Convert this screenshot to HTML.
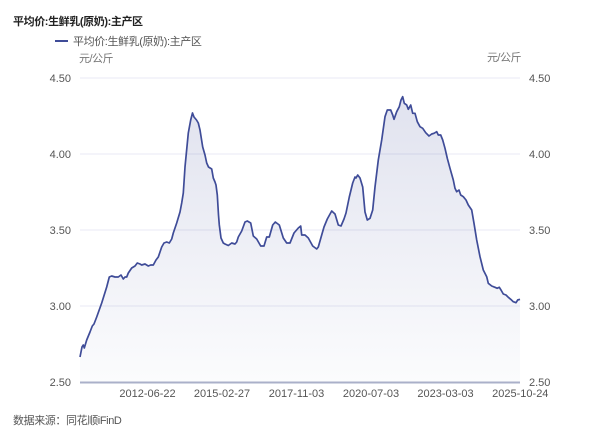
<!DOCTYPE html>
<html><head><meta charset="utf-8"><style>
html,body{margin:0;padding:0;background:#fff;}
svg{display:block;font-family:"Liberation Sans","Noto Sans CJK SC",sans-serif;}
</style></head><body>
<svg width="600" height="439" viewBox="0 0 600 439" xmlns="http://www.w3.org/2000/svg">
<defs>
<linearGradient id="g" x1="0" y1="95" x2="0" y2="382" gradientUnits="userSpaceOnUse">
<stop offset="0" stop-color="#4a569e" stop-opacity="0.17"/>
<stop offset="1" stop-color="#4a569e" stop-opacity="0.02"/>
</linearGradient>
</defs>
<text x="13" y="25" font-size="11" font-weight="bold" fill="#222" letter-spacing="-0.4">平均价:生鲜乳(原奶):主产区</text>
<line x1="55" y1="41" x2="68" y2="41" stroke="#3f4c98" stroke-width="2"/>
<text x="73" y="45" font-size="11" fill="#555" letter-spacing="-0.4">平均价:生鲜乳(原奶):主产区</text>
<text x="79" y="62" font-size="11" fill="#777" letter-spacing="-0.5">元/公斤</text>
<text x="521" y="61" font-size="11" fill="#777" text-anchor="end" letter-spacing="-0.5">元/公斤</text>
<g stroke="#e8e9f4" stroke-width="1">
<line x1="80" y1="78" x2="520" y2="78"/>
<line x1="80" y1="154" x2="520" y2="154"/>
<line x1="80" y1="230" x2="520" y2="230"/>
<line x1="80" y1="306" x2="520" y2="306"/>
</g>
<g font-size="11" fill="#555" text-anchor="end">
<text x="71" y="82">4.50</text>
<text x="71" y="158">4.00</text>
<text x="71" y="234">3.50</text>
<text x="71" y="310">3.00</text>
<text x="71" y="386">2.50</text>
</g>
<g font-size="11" fill="#555" text-anchor="start">
<text x="529" y="82">4.50</text>
<text x="529" y="158">4.00</text>
<text x="529" y="234">3.50</text>
<text x="529" y="310">3.00</text>
<text x="529" y="386">2.50</text>
</g>
<path d="M80,357 L81,352 L82,347 L83.3,345 L84.3,348 L86.7,340 L90,332 L92.3,326 L94,324 L96.7,317 L101.7,303 L106.7,287 L109.3,277 L111.7,276 L115,277 L118.3,277 L121,275 L123.3,279 L125,277 L126.7,277 L128.3,273 L131.7,268 L135,266 L137.3,263 L140,264 L141.7,265 L145,264 L148.3,266 L150.7,265 L153.3,265 L156,260 L158.3,257 L160,252 L161.7,247 L164,243 L166.7,242 L169.3,243 L171.7,239 L173.3,233 L176.7,223 L180,212 L181.7,203 L183.3,193 L185,167 L188.3,133 L190.7,120 L192.5,113 L194,117 L196.5,120 L198.3,123 L200,130 L202.7,147 L205,155 L206.7,163 L208.5,167 L211.7,169 L213.3,178 L215,182 L216,185 L217.3,195 L218.5,215 L219.3,225 L221,238 L223.3,243 L225,244 L228.3,245.5 L231.7,243 L235,244 L236.7,242 L238.3,237 L241.7,231 L245,222 L247.3,221 L250.7,223 L253.3,236 L256.7,239 L260.7,246 L264,246 L266.7,237 L269.3,237 L272.7,225 L275.3,222 L279.3,225 L283.3,238 L286.7,243 L290,243 L294,233 L298.3,228 L300.7,226 L301.7,235 L305,235 L308.3,238 L312.7,246 L316.7,249 L318.3,247 L321.7,235 L324,227 L327.3,219 L331.7,211 L335,214 L338.3,225 L341,226 L344,219 L346,213 L349.3,197 L352.7,183 L355,177 L356,178 L357.7,175 L360,178 L362.7,187 L365,212 L367.3,220 L370,218.3 L372.7,210 L375,187 L378.3,160 L381.7,140 L385,116.7 L387.3,110 L390.7,110 L392.7,115 L394,119.3 L396.7,111.7 L399.3,106.7 L401,100 L402.7,96.7 L404.3,103.3 L406.7,105 L408.3,109.3 L410.7,105 L412.7,113.3 L415,113.3 L417.3,121.7 L420,126.7 L422.7,128.3 L425.7,132.7 L429,136 L431.7,134 L434,133.3 L436.7,131.7 L438.3,135 L440.7,135 L442.7,140 L445,148.3 L447.3,158.3 L450,168.3 L453.3,180 L455,188.3 L456.7,191.7 L459,190 L460.7,195 L463.3,196.7 L466,200 L468.3,205 L471.7,210 L474,223.3 L476.7,240 L480,256.7 L483.3,270 L486.7,276.7 L488.3,283.3 L491.7,286 L495,287.3 L497.3,288.3 L499.3,287.3 L501,290 L503.3,294 L506,295 L508.3,297.3 L510.7,299.3 L513.3,301.7 L516,302.7 L517.7,300 L520,299.3 L520,382 L80,382 Z" fill="url(#g)" stroke="none"/>
<polyline fill="none" stroke="#3f4c98" stroke-width="1.7" stroke-linejoin="round" points="80,357 81,352 82,347 83.3,345 84.3,348 86.7,340 90,332 92.3,326 94,324 96.7,317 101.7,303 106.7,287 109.3,277 111.7,276 115,277 118.3,277 121,275 123.3,279 125,277 126.7,277 128.3,273 131.7,268 135,266 137.3,263 140,264 141.7,265 145,264 148.3,266 150.7,265 153.3,265 156,260 158.3,257 160,252 161.7,247 164,243 166.7,242 169.3,243 171.7,239 173.3,233 176.7,223 180,212 181.7,203 183.3,193 185,167 188.3,133 190.7,120 192.5,113 194,117 196.5,120 198.3,123 200,130 202.7,147 205,155 206.7,163 208.5,167 211.7,169 213.3,178 215,182 216,185 217.3,195 218.5,215 219.3,225 221,238 223.3,243 225,244 228.3,245.5 231.7,243 235,244 236.7,242 238.3,237 241.7,231 245,222 247.3,221 250.7,223 253.3,236 256.7,239 260.7,246 264,246 266.7,237 269.3,237 272.7,225 275.3,222 279.3,225 283.3,238 286.7,243 290,243 294,233 298.3,228 300.7,226 301.7,235 305,235 308.3,238 312.7,246 316.7,249 318.3,247 321.7,235 324,227 327.3,219 331.7,211 335,214 338.3,225 341,226 344,219 346,213 349.3,197 352.7,183 355,177 356,178 357.7,175 360,178 362.7,187 365,212 367.3,220 370,218.3 372.7,210 375,187 378.3,160 381.7,140 385,116.7 387.3,110 390.7,110 392.7,115 394,119.3 396.7,111.7 399.3,106.7 401,100 402.7,96.7 404.3,103.3 406.7,105 408.3,109.3 410.7,105 412.7,113.3 415,113.3 417.3,121.7 420,126.7 422.7,128.3 425.7,132.7 429,136 431.7,134 434,133.3 436.7,131.7 438.3,135 440.7,135 442.7,140 445,148.3 447.3,158.3 450,168.3 453.3,180 455,188.3 456.7,191.7 459,190 460.7,195 463.3,196.7 466,200 468.3,205 471.7,210 474,223.3 476.7,240 480,256.7 483.3,270 486.7,276.7 488.3,283.3 491.7,286 495,287.3 497.3,288.3 499.3,287.3 501,290 503.3,294 506,295 508.3,297.3 510.7,299.3 513.3,301.7 516,302.7 517.7,300 520,299.3"/>
<line x1="80" y1="382.5" x2="520" y2="382.5" stroke="#aab0c9" stroke-width="2"/>
<g font-size="11" fill="#555" text-anchor="middle">
<text x="147.5" y="397">2012-06-22</text>
<text x="222" y="397">2015-02-27</text>
<text x="296.5" y="397">2017-11-03</text>
<text x="371" y="397">2020-07-03</text>
<text x="445.5" y="397">2023-03-03</text>
<text x="520.3" y="397">2025-10-24</text>
</g>
<text x="13" y="424" font-size="11" fill="#555" letter-spacing="-0.4">数据来源：同花顺iFinD</text>
</svg>
</body></html>
